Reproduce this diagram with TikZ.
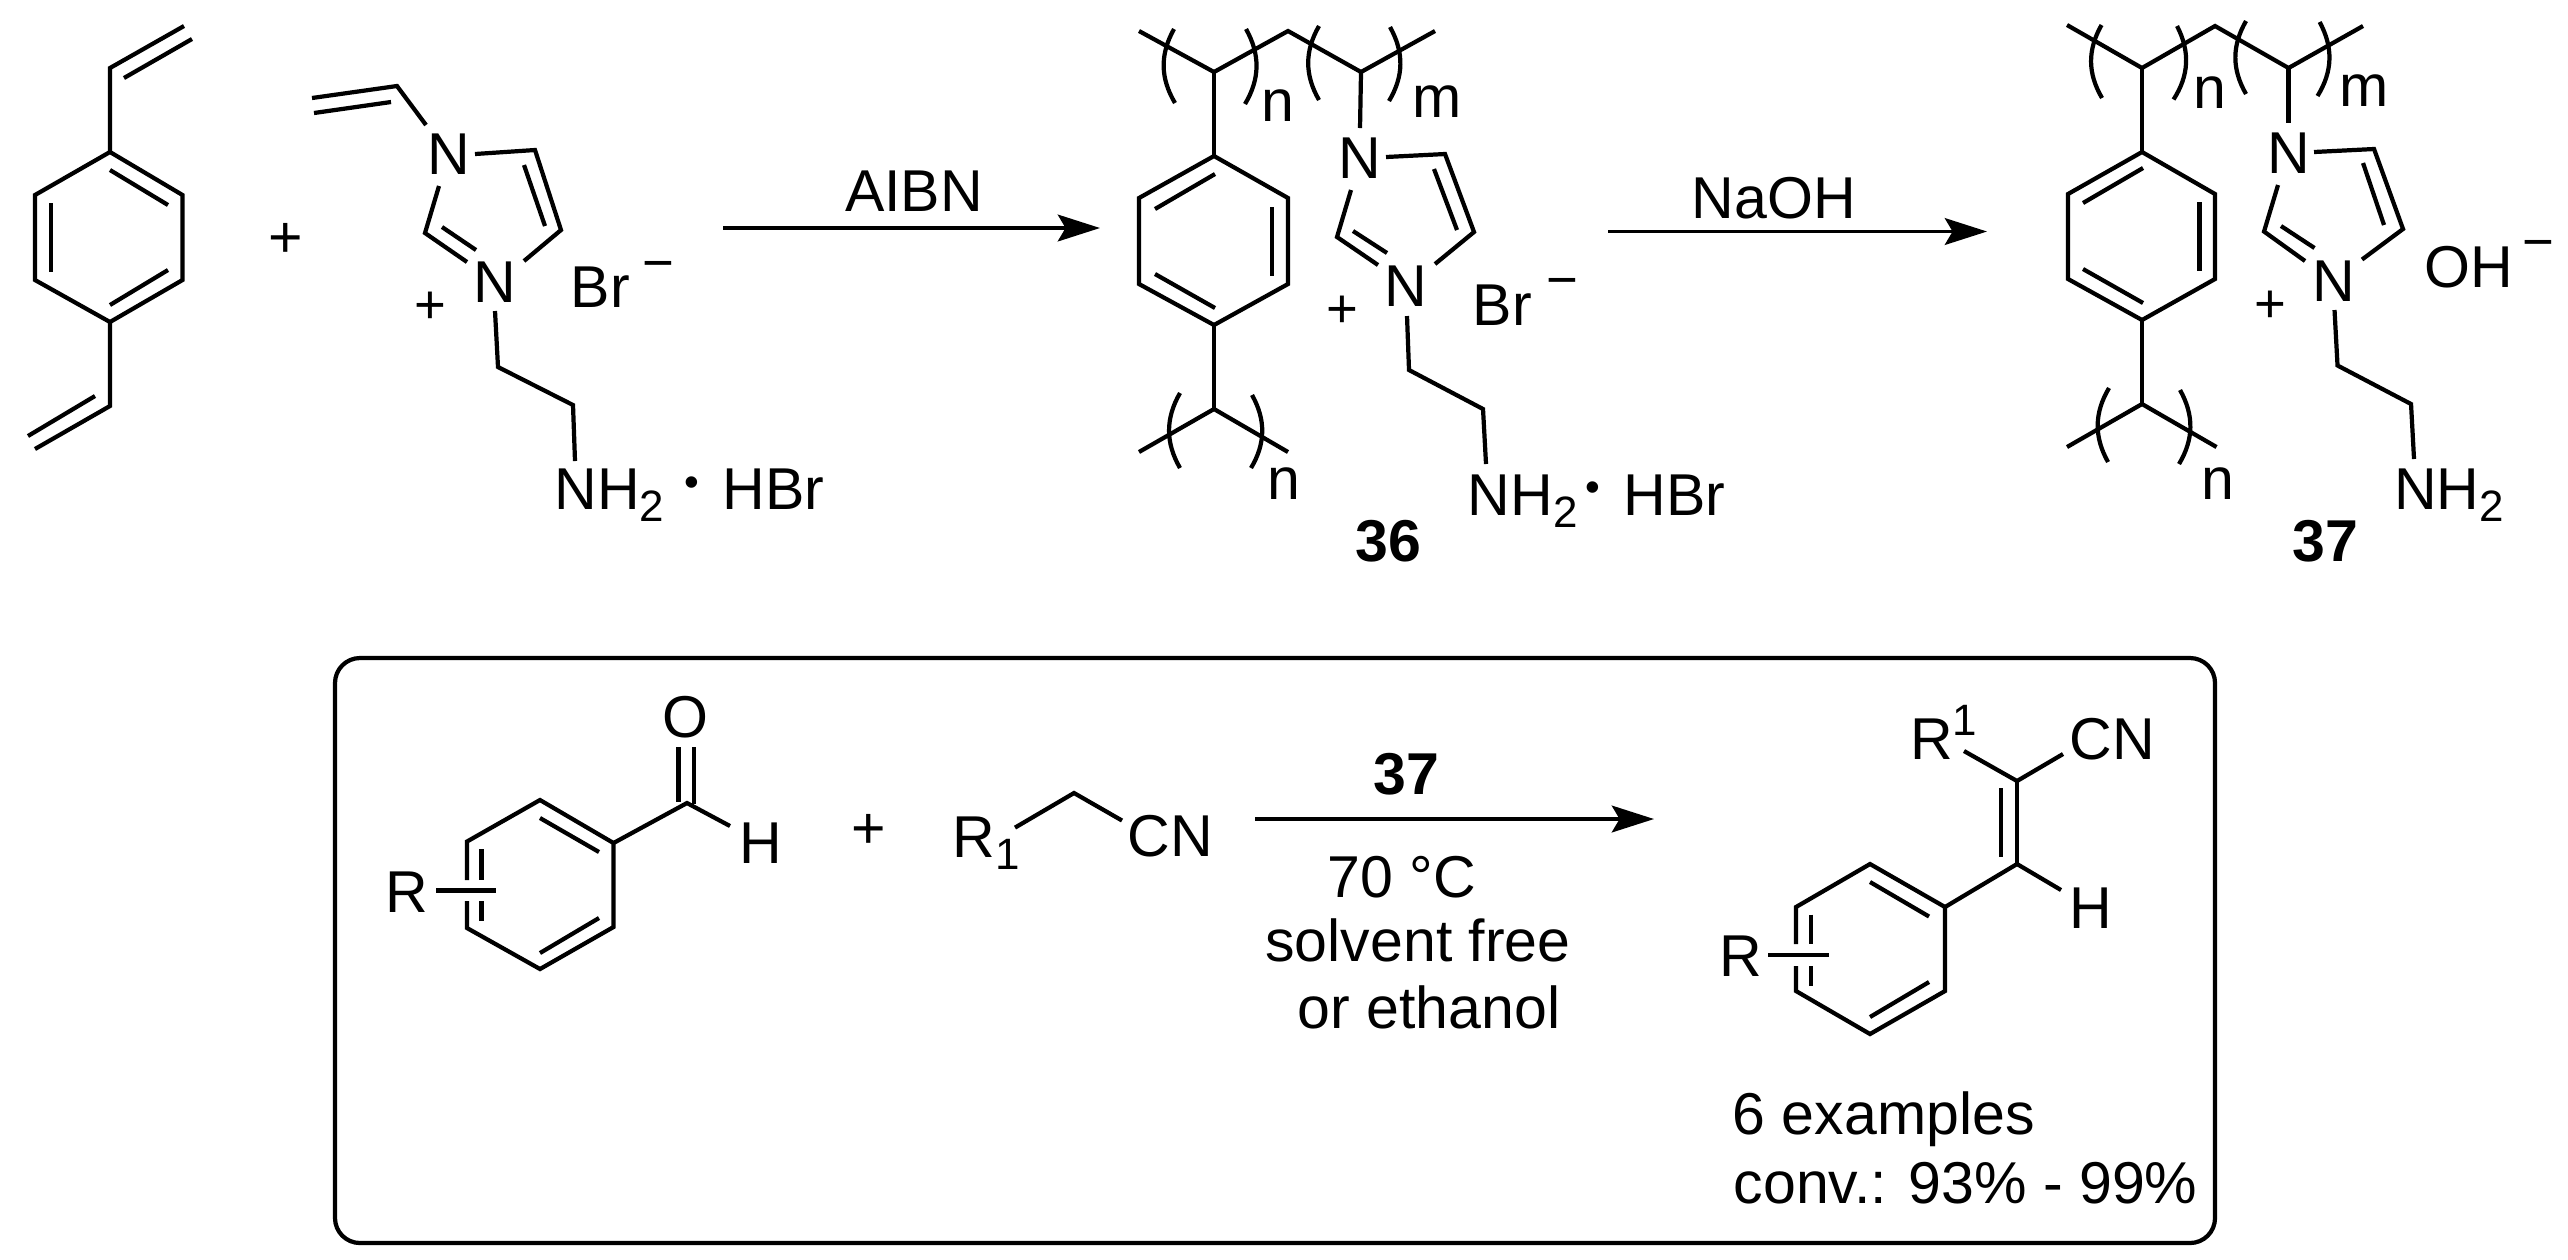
\documentclass[tikz,border=0pt]{standalone}
\usepackage{fontspec}
\setmainfont{Liberation Sans}
\usetikzlibrary{arrows.meta}

\newcommand{\lowidx}[1]{\raisebox{-3.6pt}{\fontsize{12.5}{14}\selectfont #1}}
\newcommand{\highidx}[1]{\raisebox{6.8pt}{\fontsize{12.5}{14}\selectfont #1}}

\tikzset{
  bond/.style={line width=1.2pt, line join=miter},
  rxnarrow/.style={line width=1.1pt, -{Stealth[length=12pt, width=7.6pt, inset=2.2pt]}},
  atomleft/.style={inner sep=0pt, anchor=base west, font=\fontsize{16.8}{20}\selectfont},
  atommid/.style={inner sep=0pt, anchor=base, font=\fontsize{16.8}{20}\selectfont},
  chargesign/.style={inner sep=0pt, anchor=base, font=\fontsize{15.5}{18}\selectfont},
  dotsign/.style={inner sep=0pt, anchor=base, font=\fontsize{12}{14}\selectfont},
  compnum/.style={inner sep=0pt, anchor=base, font=\fontsize{16.8}{20}\selectfont\bfseries}
}

\begin{document}
\begin{tikzpicture}[x=0.1mm, y=-0.1mm]
  \useasboundingbox (0, 0) rectangle (2568, 1259);

  % divinylbenzene
  \draw[bond] (110, 152) -- (182.5, 195) -- (182.5, 280) -- (110, 322) -- (35, 280) -- (35, 195) -- cycle;
  \draw[bond] (110, 170) -- (168, 205);
  \draw[bond] (51, 203) -- (51, 272);
  \draw[bond] (110, 305) -- (168, 270);
  \draw[bond] (110, 152) -- (110, 68) -- (184, 26);
  \draw[bond] (124, 78) -- (192, 39);
  \draw[bond] (110, 322) -- (110, 406) -- (35, 449);
  \draw[bond] (95, 396) -- (28, 436);
  \node (plusA) at (286, 257) [atommid] {+};

  % vinyl imidazolium monomer
  \node (monoNa) at (449, 174) [atommid] {N};
  \node (monoNb) at (495, 302) [atommid] {N};
  \draw[bond] (426, 125) -- (397, 86) -- (312, 98);
  \draw[bond] (391, 102) -- (314, 113);
  \draw[bond] (475, 154) -- (535, 150) -- (561, 230) -- (524, 261);
  \draw[bond] (524, 165) -- (545, 226);
  \draw[bond] (439, 186) -- (425, 233) -- (467, 262);
  \draw[bond] (442, 227) -- (476, 250);
  \draw[bond] (495, 311) -- (498, 367) -- (573, 405) -- (575, 461);
  \node (monoPlus) at (430, 323) [chargesign] {+};
  \node (monoBr) at (570, 307) [atomleft] {Br};
  \node (monoMinus) at (658, 281) [chargesign] {−};
  \node (monoAmine) at (554, 509) [atomleft] {NH\lowidx{2}};
  \node (monoDot) at (692, 496) [dotsign] {•};
  \node (monoAcid) at (722, 509) [atomleft] {HBr};

  % first arrow
  \coordinate (arrowAa) at (723, 228);
  \coordinate (arrowAb) at (1100, 228);
  \draw[rxnarrow] (arrowAa) -- (arrowAb);
  \node (arrowAlabel) at (914, 211) [atommid] {AIBN};

  % polymer 36
  \draw[bond] (1139, 31) -- (1214, 72) -- (1288, 31) -- (1361, 72) -- (1435, 31);
  \draw[bond] (1174, 29) to[bend right=30] (1175, 103);
  \draw[bond] (1246, 29) to[bend left=30] (1245, 104);
  \draw[bond] (1319, 26) to[bend right=30] (1319, 100);
  \draw[bond] (1390, 27) to[bend left=30] (1389, 101);
  \node (polyAn) at (1261, 121) [atomleft] {n};
  \node (polyAm) at (1412, 117) [atomleft] {m};
  \draw[bond] (1214, 72) -- (1214, 156);
  \draw[bond] (1214, 156) -- (1288, 198) -- (1288, 284) -- (1214, 325) -- (1139, 284) -- (1139, 198) -- cycle;
  \draw[bond] (1155, 209) -- (1215, 174);
  \draw[bond] (1272, 207) -- (1272, 276);
  \draw[bond] (1155, 274) -- (1215, 308);
  \draw[bond] (1214, 325) -- (1214, 409);
  \draw[bond] (1139, 452) -- (1214, 409) -- (1288, 452);
  \draw[bond] (1180, 393) to[bend right=30] (1180, 468);
  \draw[bond] (1252, 395) to[bend left=30] (1251, 468);
  \node (polyAnn) at (1267, 499) [atomleft] {n};
  \draw[bond] (1361, 72) -- (1360, 128);
  \node (polyANa) at (1360, 178) [atommid] {N};
  \node (polyANb) at (1406, 306) [atommid] {N};
  \draw[bond] (1386, 157) -- (1445, 154) -- (1474, 232) -- (1435, 264);
  \draw[bond] (1434, 169) -- (1457, 230);
  \draw[bond] (1351, 190) -- (1337, 237) -- (1378, 265);
  \draw[bond] (1353, 231) -- (1387, 253);
  \draw[bond] (1407, 316) -- (1409, 370) -- (1483, 409) -- (1486, 464);
  \node (polyAPlus) at (1342.5, 327) [chargesign] {+};
  \node (polyABr) at (1472, 325) [atomleft] {Br};
  \node (polyAMinus) at (1562, 298) [chargesign] {−};
  \node (polyAAmine) at (1467, 515) [atomleft] {NH\lowidx{2}};
  \node (polyADot) at (1593, 501) [dotsign] {•};
  \node (polyAAcid) at (1623, 515) [atomleft] {HBr};
  \node (polyAnum) at (1388, 561) [compnum] {36};

  % second arrow
  \coordinate (arrowBa) at (1608, 231.5);
  \coordinate (arrowBb) at (1987, 231.5);
  \draw[rxnarrow] (arrowBa) -- (arrowBb);
  \node (arrowBlabel) at (1691, 218) [atomleft] {NaOH};

  % polymer 37
  \draw[bond] (2067, 25) -- (2142, 68) -- (2215, 26) -- (2288.5, 68) -- (2363, 26);
  \draw[bond] (2101.5, 25) to[bend right=30] (2102, 98);
  \draw[bond] (2177, 26) to[bend left=30] (2173.5, 99.5);
  \draw[bond] (2246, 21) to[bend right=30] (2246, 94);
  \draw[bond] (2319.6, 22) to[bend left=30] (2317.5, 96);
  \node (polyBn) at (2193, 108) [atomleft] {n};
  \node (polyBm) at (2339, 106) [atomleft] {m};
  \draw[bond] (2142, 68) -- (2142, 152);
  \draw[bond] (2142, 152) -- (2215, 194) -- (2215, 279) -- (2142, 320) -- (2068, 279) -- (2068, 194) -- cycle;
  \draw[bond] (2083, 203) -- (2143, 168);
  \draw[bond] (2199.5, 202) -- (2199.5, 271);
  \draw[bond] (2083, 269) -- (2143, 303);
  \draw[bond] (2142, 320) -- (2142, 404);
  \draw[bond] (2067, 447) -- (2142, 404) -- (2216.5, 447);
  \draw[bond] (2109, 388) to[bend right=30] (2108, 462);
  \draw[bond] (2180, 390) to[bend left=30] (2179, 464);
  \node (polyBnn) at (2201, 499) [atomleft] {n};
  \draw[bond] (2288.5, 68) -- (2288.5, 122.5);
  \node (polyBNa) at (2288.5, 173) [atommid] {N};
  \node (polyBNb) at (2333.7, 301) [atommid] {N};
  \draw[bond] (2314, 152) -- (2374, 149) -- (2403, 229) -- (2362, 259.5);
  \draw[bond] (2363, 163) -- (2384, 225);
  \draw[bond] (2278, 185) -- (2264, 231.5) -- (2305, 261);
  \draw[bond] (2281, 226) -- (2314.5, 248);
  \draw[bond] (2334.5, 310) -- (2337.5, 365.5) -- (2411, 404) -- (2414, 459);
  \node (polyBPlus) at (2270, 322) [chargesign] {+};
  \node (polyBOH) at (2424, 287) [atomleft] {OH};
  \node (polyBMinus) at (2538, 260) [chargesign] {−};
  \node (polyBAmine) at (2393.6, 509) [atomleft] {NH\lowidx{2}};
  \node (polyBnum) at (2325, 561) [compnum] {37};

  % framed reaction
  \draw[line width=1.2pt, rounded corners=2.5mm] (335, 658) rectangle (2215, 1243);

  % aldehyde
  \draw[bond] (467, 880) -- (467, 841.5) -- (540, 800) -- (613.5, 843) -- (613.5, 927) -- (540, 969) -- (467, 928) -- (467, 901);
  \draw[bond] (481.4, 849) -- (481.4, 880);
  \draw[bond] (481.4, 901) -- (481.4, 920.5);
  \draw[bond] (436, 890.4) -- (495.5, 890.4);
  \draw[bond] (540, 818) -- (599, 852);
  \draw[bond] (540, 953) -- (599, 918);
  \node (aldR) at (385, 912) [atomleft] {R};
  \draw[bond] (613.5, 843) -- (687, 803) -- (730, 826);
  \draw[bond] (678.5, 747) -- (678.5, 802);
  \draw[bond] (694, 747) -- (694, 804);
  \node (aldO) at (685.6, 737.6) [atommid] {O};
  \node (aldH) at (739, 863) [atomleft] {H};
  \node (plusB) at (868.7, 848) [atommid] {+};

  % nitrile
  \node (nitR) at (952, 857) [atomleft] {R\lowidx{1}};
  \draw[bond] (1015, 827.6) -- (1074, 793) -- (1122, 820.5);
  \node (nitCN) at (1127, 856) [atomleft] {CN};

  % third arrow
  \coordinate (arrowCa) at (1255, 819);
  \coordinate (arrowCb) at (1654, 819);
  \draw[rxnarrow] (arrowCa) -- (arrowCb);
  \node (arrowCnum) at (1406, 794) [compnum] {37};
  \node (arrowCtemp) at (1402, 897.5) [atommid] {70 °C};
  \node (arrowCsolv) at (1418, 961) [atommid] {solvent free};
  \node (arrowCetoh) at (1429, 1028) [atommid] {or ethanol};

  % product
  \node (prodRa) at (1909.5, 759) [atomleft] {R\highidx{1}};
  \node (prodCN) at (2069, 759) [atomleft] {CN};
  \draw[bond] (1964, 751) -- (2017, 781) -- (2063, 754);
  \draw[bond] (2017, 781) -- (2017, 864);
  \draw[bond] (2001, 788) -- (2001, 857);
  \draw[bond] (2061, 890) -- (2017, 864) -- (1945, 907);
  \node (prodH) at (2069, 928) [atomleft] {H};
  \draw[bond] (1796, 944) -- (1796, 907) -- (1870, 864) -- (1945, 907) -- (1945, 991) -- (1870, 1034) -- (1796, 991) -- (1796, 966);
  \draw[bond] (1870, 882) -- (1929, 916.5);
  \draw[bond] (1870, 1017) -- (1929, 982);
  \draw[bond] (1811, 914.5) -- (1811, 944);
  \draw[bond] (1811, 966) -- (1811, 986);
  \draw[bond] (1768, 955) -- (1828.5, 955);
  \node (prodRb) at (1718.6, 976.5) [atomleft] {R};
  \node (prodCount) at (1732, 1134) [atomleft] {6 examples};
  \node (prodConv) at (1733, 1203) [atomleft] {conv.: 93\% - 99\%};
\end{tikzpicture}
\end{document}
